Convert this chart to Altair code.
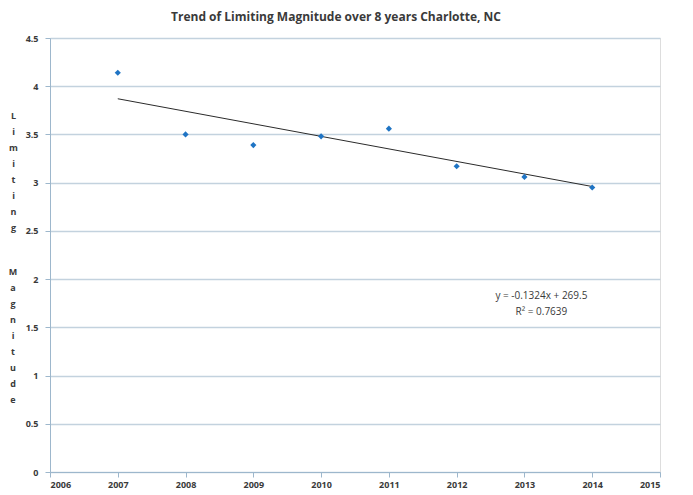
import altair as alt
import pandas as pd

years = [2007, 2008, 2009, 2010, 2011, 2012, 2013, 2014]
magnitudes = [4.14, 3.50, 3.39, 3.48, 3.56, 3.17, 3.06, 2.95]

trend_years = [2007, 2014]
trend_values = [3.87, 2.96]

x_ticks = list(range(2006, 2016))
y_ticks = [0, 0.5, 1, 1.5, 2, 2.5, 3, 3.5, 4, 4.5]

annot_text = ["y = -0.1324x + 269.5", "R\u00b2 = 0.7639"]
annot_x = [2013.25, 2013.25]
annot_y = [1.83, 1.66]

title_text = "Trend of Limiting Magnitude over 8 years Charlotte, NC"
y_title_1 = list("Limiting")
y_title_2 = list("Magnitude")

FONT = "Open Sans"
TXT = "#3a3a3a"
AX = "#9db7cc"
GRID = "#c3d2de"

pts = pd.DataFrame({"year": years, "mag": magnitudes})
trend = pd.DataFrame({"year": trend_years, "mag": trend_values})
ann = pd.DataFrame({"year": annot_x, "mag": annot_y, "t": annot_text})

xs = alt.Scale(domain=[2006, 2015], nice=False, zero=False)
ys = alt.Scale(domain=[0, 4.5], nice=False)

x_axis = alt.Axis(values=x_ticks, format="d", title=None, grid=False,
                  domainColor=AX, tickColor=AX, tickSize=5,
                  labelFont=FONT, labelFontSize=9, labelFontWeight="bold",
                  labelColor=TXT, labelPadding=3)
y_axis = alt.Axis(values=y_ticks, format="~g", title=y_title_1, grid=True,
                  gridColor=GRID, gridWidth=1.5, domainColor=AX, tickColor=AX,
                  tickSize=5, labelFont=FONT, labelFontSize=9,
                  labelFontWeight="bold", labelColor=TXT, labelPadding=7,
                  titleAngle=0, titleFont=FONT, titleFontSize=9,
                  titleFontWeight="bold", titleColor=TXT, titleAlign="center",
                  titleBaseline="middle", titleX=-37, titleY=77,
                  titleLineHeight=16)

base_pts = alt.Chart(pts).mark_point(shape="diamond", filled=True, size=38,
                                     color="#1f74c4", opacity=1).encode(
    x=alt.X("year:Q", scale=xs, axis=x_axis),
    y=alt.Y("mag:Q", scale=ys, axis=y_axis),
)

line = alt.Chart(trend).mark_line(color="#2b2b2b", strokeWidth=1).encode(
    x=alt.X("year:Q", scale=xs),
    y=alt.Y("mag:Q", scale=ys),
)

txt = alt.Chart(ann).mark_text(font=FONT, fontSize=10, color=TXT,
                               align="center", baseline="middle").encode(
    x=alt.X("year:Q", scale=xs),
    y=alt.Y("mag:Q", scale=ys),
    text="t:N",
)

ytitle2 = alt.Chart(pd.DataFrame({"k": [0]})).mark_text(
    font=FONT, fontSize=9, fontWeight="bold", color=TXT, align="center",
    baseline="middle", lineHeight=16,
).encode(
    x=alt.value(-37), y=alt.value(234), text=alt.value(y_title_2),
)

chart = alt.layer(line, base_pts, txt, ytitle2).properties(
    width=610, height=434,
    title=alt.TitleParams(title_text, font=FONT, fontSize=12,
                          fontWeight="bold", color=TXT, anchor="middle",
                          dx=-19, offset=10),
    autosize=alt.AutoSizeParams(type="none"),
    padding={"left": 42, "top": 30, "right": 25, "bottom": 20},
).configure_view(stroke=None).configure(background="white")

chart.save("out.html", embed_options={"renderer": "svg", "actions": False})
